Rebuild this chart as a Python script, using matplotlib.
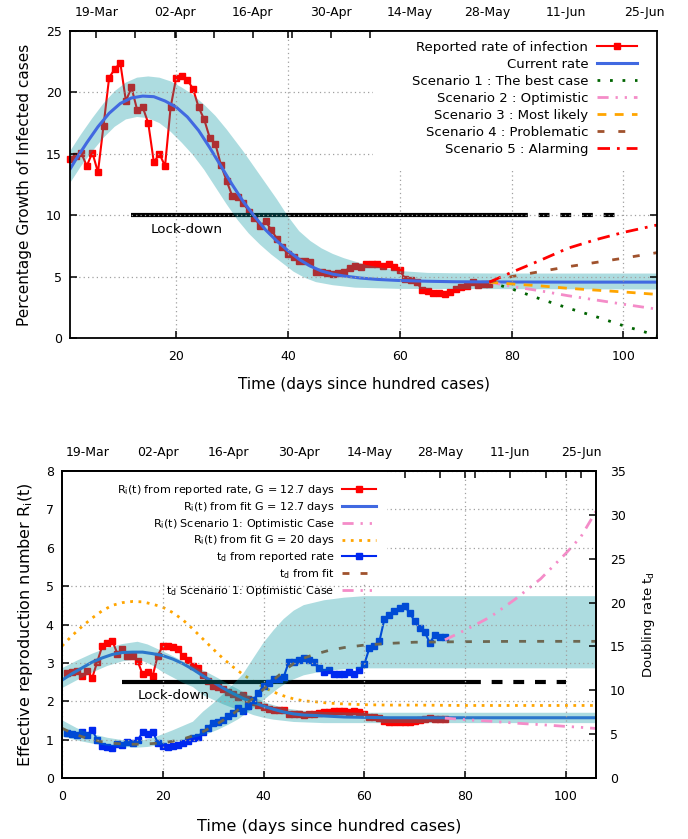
import numpy as np
import matplotlib
matplotlib.use('Agg')
import matplotlib.pyplot as plt
from matplotlib.lines import Line2D
from matplotlib.patches import Rectangle

plt.rcParams.update({'font.family': 'DejaVu Sans', 'font.size': 9, 'axes.linewidth': 1.3,
    'xtick.direction': 'in', 'ytick.direction': 'in', 'xtick.major.size': 5, 'ytick.major.size': 5,
    'xtick.major.width': 1.1, 'ytick.major.width': 1.1, 'mathtext.default': 'regular'})

# reported daily growth rate (%), days since hundred cases
days = list(range(1, 77))
rate_reported = [14.6, 14.8, 15.1, 14.0, 15.1, 13.5, 17.3, 21.2, 21.9, 22.4,
                 19.3, 20.4, 18.6, 18.8, 17.5, 14.3, 15.0, 14.0, 18.8, 21.2,
                 21.3, 21.0, 20.3, 18.8, 17.8, 16.3, 15.8, 14.1, 12.8, 11.6,
                 11.5, 11.0, 10.3, 9.8, 9.1, 9.5, 8.8, 8.1, 7.4, 6.8,
                 6.6, 6.3, 6.3, 6.2, 5.4, 5.4, 5.3, 5.2, 5.3, 5.4,
                 5.7, 5.9, 5.8, 6.0, 6.0, 6.0, 5.9, 6.0, 5.8, 5.5,
                 4.8, 4.7, 4.55, 3.9, 3.8, 3.7, 3.65, 3.6, 3.75, 3.95,
                 4.15, 4.25, 4.6, 4.35, 4.4, 4.4]
ri_reported = [2.73, 2.75, 2.79, 2.66, 2.79, 2.61, 3.03, 3.44, 3.51, 3.57,
               3.24, 3.36, 3.17, 3.19, 3.05, 2.70, 2.77, 2.66, 3.19, 3.44,
               3.45, 3.42, 3.35, 3.19, 3.08, 2.92, 2.86, 2.68, 2.53, 2.39,
               2.38, 2.33, 2.24, 2.19, 2.11, 2.15, 2.07, 1.99, 1.91, 1.84,
               1.81, 1.78, 1.78, 1.76, 1.67, 1.67, 1.66, 1.64, 1.66, 1.67,
               1.70, 1.73, 1.72, 1.74, 1.74, 1.74, 1.73, 1.74, 1.72, 1.68,
               1.60, 1.58, 1.57, 1.49, 1.47, 1.46, 1.46, 1.45, 1.47, 1.49,
               1.52, 1.53, 1.57, 1.54, 1.55, 1.55]
td_reported = [5.09, 5.02, 4.93, 5.29, 4.93, 5.47, 4.34, 3.60, 3.50, 3.43,
               3.93, 3.73, 4.06, 4.02, 4.30, 5.19, 4.96, 5.29, 4.02, 3.60,
               3.59, 3.64, 3.75, 4.02, 4.23, 4.59, 4.73, 5.25, 5.75, 6.32,
               6.37, 6.64, 7.07, 7.41, 7.96, 7.64, 8.22, 8.90, 9.71, 10.54,
               10.85, 11.34, 11.34, 11.52, 13.18, 13.18, 13.42, 13.67, 13.42, 13.18,
               12.50, 12.09, 12.29, 11.90, 11.90, 11.90, 12.09, 11.90, 12.29, 12.95,
               14.78, 15.09, 15.58, 18.12, 18.58, 19.08, 19.33, 19.60, 18.83, 17.89,
               17.05, 16.65, 15.41, 16.28, 16.10, 16.10]

# fitted rate and derived quantities
fit_days = [0, 2, 4, 6, 8, 10, 12, 14, 16, 18, 20, 22, 24, 26, 28, 30, 32, 34, 36, 38,
            40, 42, 44, 46, 48, 50, 53, 56, 60, 65, 70, 80, 90, 106]
fit_rate = [13.0, 14.5, 15.9, 17.2, 18.3, 19.1, 19.55, 19.7, 19.65, 19.3, 18.8, 18.0, 16.9, 15.5,
            14.0, 12.5, 11.1, 9.9, 8.8, 7.9, 7.1, 6.4, 5.85, 5.45, 5.2, 5.05, 4.88, 4.77, 4.68,
            4.62, 4.58, 4.56, 4.55, 4.55]
ri_fit = [2.55, 2.72, 2.87, 3.02, 3.13, 3.22, 3.27, 3.28, 3.28, 3.24, 3.19, 3.10, 2.98, 2.83,
          2.66, 2.50, 2.34, 2.20, 2.07, 1.97, 1.87, 1.79, 1.72, 1.67, 1.64, 1.63, 1.61, 1.59, 1.58,
          1.57, 1.57, 1.57, 1.57, 1.57]
ri_fit_g20 = [3.44, 3.71, 3.95, 4.17, 4.36, 4.50, 4.57, 4.60, 4.59, 4.53, 4.45, 4.31, 4.12, 3.88,
              3.62, 3.36, 3.11, 2.89, 2.69, 2.52, 2.37, 2.24, 2.14, 2.06, 2.01, 1.99, 1.95, 1.93,
              1.91, 1.90, 1.90, 1.89, 1.89, 1.89]
td_fit = [5.67, 5.12, 4.70, 4.37, 4.12, 3.97, 3.88, 3.85, 3.86, 3.93, 4.02, 4.19, 4.44, 4.81,
          5.29, 5.89, 6.59, 7.34, 8.22, 9.12, 10.11, 11.17, 12.19, 13.06, 13.67, 14.07, 14.55,
          14.87, 15.15, 15.35, 15.48, 15.54, 15.58, 15.58]

# uncertainty band of the growth rate
rate_hi_days = [1, 3, 5, 7, 9, 11, 13, 15, 17, 19, 21, 23, 25, 27, 29, 31, 32, 34, 36, 38,
                40, 42, 44, 46, 48, 50, 54, 60, 65, 70, 80, 106]
rate_hi = [15.2, 16.6, 17.9, 19.1, 20.1, 20.8, 21.2, 21.3, 21.2, 20.9, 20.4, 19.8, 19.0, 18.1,
           17.0, 15.8, 15.2, 13.9, 12.6, 11.3, 9.9, 8.7, 7.9, 7.3, 6.85, 6.5, 5.95, 5.45, 5.3,
           5.27, 5.25, 5.25]
rate_lo_days = [1, 3, 5, 7, 9, 11, 13, 15, 17, 19, 21, 23, 25, 27, 29, 31, 33, 35, 37, 39,
                41, 43, 45, 48, 52, 60, 106]
rate_lo = [12.6, 14.0, 15.2, 16.3, 17.2, 17.8, 18.0, 17.9, 17.5, 16.8, 15.9, 14.9, 13.7, 12.3,
           10.9, 9.6, 8.5, 7.6, 6.8, 6.1, 5.4, 4.9, 4.55, 4.3, 4.1, 4.0, 3.95]

# bands for R_i and t_d (upper R_i pairs with lower t_d and vice versa)
band_a_days = [0, 3, 6, 9, 12, 15, 17, 19, 21, 23, 25, 27, 29, 31, 33, 35, 37, 39, 41, 43,
               45, 48, 52, 56, 60, 106]
ri_band_hi = [2.86, 3.06, 3.24, 3.39, 3.49, 3.55, 3.48, 3.36, 3.24, 3.11, 2.98, 2.86, 2.74,
              2.60, 2.45, 2.31, 2.16, 2.05, 1.94, 1.86, 1.80, 1.75, 1.72, 1.71, 1.70, 1.70]
td_band_lo = [4.73, 4.28, 3.93, 3.68, 3.53, 3.46, 3.54, 3.73, 3.93, 4.17, 4.44, 4.73, 5.05,
              5.51, 6.07, 6.70, 7.56, 8.40, 9.34, 10.24, 11.01, 11.71, 12.19, 12.40, 12.50, 12.50]
band_b_days = [0, 3, 6, 9, 12, 14, 16, 18, 20, 22, 24, 26, 28, 30, 32, 34, 36, 38, 40, 42,
               44, 46, 48, 52, 56, 60, 70, 106]
ri_band_lo = [2.34, 2.55, 2.75, 2.92, 3.04, 3.07, 3.05, 2.93, 2.76, 2.62, 2.48, 2.37, 2.16,
              2.04, 1.92, 1.82, 1.74, 1.64, 1.57, 1.52, 1.49, 1.46, 1.45, 1.43, 1.43, 1.43,
              1.43, 1.43]
td_band_hi = [6.59, 5.67, 5.02, 4.59, 4.32, 4.25, 4.30, 4.56, 4.99, 5.44, 5.93, 6.42, 7.56,
              8.50, 9.58, 10.69, 11.90, 13.67, 15.41, 16.85, 18.12, 19.08, 19.71, 20.26, 20.56,
              20.73, 20.73, 20.73]

# projections
scen_days = [76, 80, 85, 90, 95, 100, 106]
scen_best = [4.55, 4.0, 3.2, 2.45, 1.75, 1.0, 0.2]
scen_optimistic = [4.55, 4.2, 3.85, 3.45, 3.1, 2.75, 2.35]
scen_likely = [4.55, 4.4, 4.25, 4.05, 3.9, 3.75, 3.55]
scen_problem = [4.55, 5.0, 5.4, 5.8, 6.15, 6.5, 6.95]
scen_alarm = [4.55, 5.35, 6.3, 7.3, 8.0, 8.6, 9.2]
opt_days = [76, 80, 85, 90, 95, 100, 103, 106]
ri_opt = [1.56, 1.52, 1.48, 1.43, 1.39, 1.345, 1.32, 1.29]
td_opt = [15.75, 16.85, 18.35, 20.4, 22.7, 25.6, 27.5, 30.4]

lock_start, lock_end, lock_proj_end = 12, 81, 100
date_labels = ['19-Mar', '02-Apr', '16-Apr', '30-Apr', '14-May', '28-May', '11-Jun', '25-Jun']

BAND = '#02959f'; BAND_A = 0.32
RED = '#ff0000'; ROYAL = '#4169e1'; GREEN = '#006400'; PINK = '#f48cc8'
ORANGE = '#ffa500'; SIENNA = '#a0522d'; BLUE = '#0028f0'
GRID = dict(color='#a0a0a0', linestyle=(0, (1, 2.5)), linewidth=0.9)
LS_BEST = (0, (1, 3.5)); LS_OPT = (0, (4, 2.5, 0.8, 2.5, 0.8, 2.5)); LS_LIKELY = (0, (3.2, 3))
LS_PROB = (0, (2.5, 5)); LS_ALARM = (0, (4.5, 2.5, 1, 2.5)); LS_LOCK = (0, (2.6, 2.6))
LS_TDFIT = (0, (2.5, 4)); LS_G20 = (0, (1, 2))


def date_axis(ax, first):
    sec = ax.secondary_xaxis('top')
    ticks = np.arange(first, 106, 7)
    labels = [date_labels[i // 2] if i % 2 == 0 else '' for i in range(len(ticks))]
    sec.set_xticks(ticks)
    sec.set_xticklabels(labels)
    sec.tick_params(direction='in', length=5, width=1.1, pad=8.5, labelsize=9)
    return sec


fig = plt.figure(figsize=(6.88, 8.39), dpi=100)

# ---- upper panel: growth rate ----
pos1 = [70/688, 1-338/839, 587/688, 307/839]
ax = fig.add_axes(pos1)
ax.axis('off')
ax.plot(days, rate_reported, color=RED, lw=1.5, marker='s', ms=5, zorder=2, clip_on=False)
ax.plot([lock_start, lock_end], [10, 10], color='black', lw=3, solid_capstyle='butt', zorder=2)
ax.plot([lock_end, lock_proj_end], [10, 10], color='black', lw=3, ls=LS_LOCK, zorder=2)
ax.fill(np.r_[rate_hi_days, rate_lo_days[::-1]], np.r_[rate_hi, rate_lo[::-1]],
        color=BAND, alpha=BAND_A, lw=0, zorder=2.2)
ax.plot(fit_days, fit_rate, color=ROYAL, lw=2.2, zorder=2.6)
ax.plot(scen_days, scen_best, color=GREEN, lw=2, ls=LS_BEST, zorder=2.6)
ax.plot(scen_days, scen_optimistic, color=PINK, lw=2, ls=LS_OPT, zorder=2.6)
ax.plot(scen_days, scen_likely, color=ORANGE, lw=2, ls=LS_LIKELY, zorder=2.6)
ax.plot(scen_days, scen_problem, color=SIENNA, lw=2, ls=LS_PROB, zorder=2.6)
ax.plot(scen_days, scen_alarm, color=RED, lw=2, ls=LS_ALARM, zorder=2.6)
ax.set_xlim(1, 106); ax.set_ylim(0, 25)

# frame, grid and legend drawn over the data
ov = fig.add_axes(pos1, sharex=ax, sharey=ax, label='frame1')
ov.patch.set_visible(False)
ov.set_axisbelow(True)
ov.grid(True, **GRID)
ov.set_xticks([20, 40, 60, 80, 100]); ov.set_yticks(range(0, 26, 5))
ov.tick_params(top=True, right=True, labelsize=9)
ov.tick_params(axis='x', pad=9)
ov.tick_params(axis='y', pad=6)
ov.add_patch(Rectangle((0.516, 0.547), 0.484, 0.453, transform=ov.transAxes,
                       color='white', lw=0, zorder=1))
ov.text(21.8, 8.8, 'Lock-down', ha='center', va='center', fontsize=9.7)
ov.set_xlabel('Time (days since hundred cases)', fontsize=11, labelpad=10)
ov.set_ylabel('Percentage Growth of Infected cases', fontsize=11, labelpad=10)
date_axis(ov, 5.7)
handles = [Line2D([], [], color=RED, lw=1.5, marker='s', ms=5),
           Line2D([], [], color=ROYAL, lw=2.2),
           Line2D([], [], color=GREEN, lw=2, ls=LS_BEST),
           Line2D([], [], color=PINK, lw=2, ls=LS_OPT),
           Line2D([], [], color=ORANGE, lw=2, ls=LS_LIKELY),
           Line2D([], [], color=SIENNA, lw=2, ls=LS_PROB),
           Line2D([], [], color=RED, lw=2, ls=LS_ALARM)]
labels = ['Reported rate of infection', 'Current rate', 'Scenario 1 : The best case',
          'Scenario 2 : Optimistic', 'Scenario 3 : Most likely', 'Scenario 4 : Problematic',
          'Scenario 5 : Alarming']
ov.legend(handles, labels, loc='upper right', bbox_to_anchor=(0.975, 0.985),
          markerfirst=False, frameon=False, fontsize=9.5, numpoints=1,
          handlelength=3.0, handletextpad=0.7, labelspacing=0.3, borderaxespad=0)

# ---- lower panel: reproduction number and doubling time ----
pos2 = [62/688, 1-778/839, 534/688, 307/839]
ax_ri = fig.add_axes(pos2, label='ri')
ax_ri.axis('off')
ax_ri.plot(days, ri_reported, color=RED, lw=1.5, marker='s', ms=3.8, zorder=2)
ax_ri.plot(fit_days, ri_fit, color=ROYAL, lw=2.2, zorder=2)
ax_ri.plot(fit_days, ri_fit_g20, color=ORANGE, lw=2, ls=LS_G20, zorder=2)
ax_ri.plot([lock_start, lock_end], [2.5, 2.5], color='black', lw=3, solid_capstyle='butt', zorder=2)
ax_ri.plot([lock_end, lock_proj_end], [2.5, 2.5], color='black', lw=3, ls=LS_LOCK, zorder=2)
ax_ri.fill(np.r_[band_a_days, band_b_days[::-1]], np.r_[ri_band_hi, ri_band_lo[::-1]],
           color=BAND, alpha=BAND_A, lw=0, zorder=2.2)
ax_ri.plot(opt_days, ri_opt, color=PINK, lw=2, ls=LS_OPT, zorder=2.6)
ax_ri.set_xlim(0, 106); ax_ri.set_ylim(0, 8)

ax_td = fig.add_axes(pos2, sharex=ax_ri, label='td')
ax_td.axis('off')
ax_td.plot(days, td_reported, color=BLUE, lw=1.5, marker='s', ms=3.8, zorder=2)
ax_td.plot(fit_days, td_fit, color=SIENNA, lw=2, ls=LS_TDFIT, zorder=2)
ax_td.fill(np.r_[band_b_days, band_a_days[::-1]], np.r_[td_band_hi, td_band_lo[::-1]],
           color=BAND, alpha=BAND_A, lw=0, zorder=2.2)
ax_td.plot(opt_days, td_opt, color=PINK, lw=2, ls=LS_OPT, zorder=2.6)
ax_td.set_ylim(0, 35)

ov2 = fig.add_axes(pos2, sharex=ax_ri, sharey=ax_ri, label='frame2')
ov2.patch.set_visible(False)
ov2.set_axisbelow(True)
ov2.grid(True, **GRID)
ov2.set_xticks(range(0, 101, 20)); ov2.set_yticks(range(0, 9))
ov2.tick_params(top=True, right=False, labelsize=9)
ov2.tick_params(axis='x', pad=9)
ov2.tick_params(axis='y', pad=6)
ov2.add_patch(Rectangle((0, 0.635), 0.609, 0.365, transform=ov2.transAxes,
                        color='white', lw=0, zorder=1))
ov2.text(22.2, 2.16, 'Lock-down', ha='center', va='center', fontsize=9.7)
ov2.set_xlabel('Time (days since hundred cases)', fontsize=11.5, labelpad=11)
ov2.set_ylabel('Effective reproduction number R$_i$(t)', fontsize=11.5, labelpad=8)
date_axis(ov2, 5.0)
ov2r = ov2.twinx()
ov2r.set_ylim(0, 35); ov2r.set_yticks(range(0, 36, 5))
ov2r.tick_params(labelsize=9, pad=10)
ov2r.set_ylabel('Doubling rate t$_d$', fontsize=9.5, labelpad=10)
handles2 = [Line2D([], [], color=RED, lw=1.5, marker='s', ms=3.8),
            Line2D([], [], color=ROYAL, lw=2.2),
            Line2D([], [], color=PINK, lw=2, ls=LS_OPT),
            Line2D([], [], color=ORANGE, lw=2, ls=LS_G20),
            Line2D([], [], color=BLUE, lw=1.5, marker='s', ms=3.8),
            Line2D([], [], color=SIENNA, lw=2, ls=LS_TDFIT),
            Line2D([], [], color=PINK, lw=2, ls=LS_OPT)]
labels2 = ['R$_i$(t) from reported rate, G = 12.7 days', 'R$_i$(t) from fit G = 12.7 days',
           'R$_i$(t) Scenario 1: Optimistic Case', 'R$_i$(t) from fit G = 20 days',
           't$_d$ from reported rate', 't$_d$ from fit', 't$_d$ Scenario 1: Optimistic Case']
ov2.legend(handles2, labels2, loc='upper right', bbox_to_anchor=(0.596, 0.975),
           markerfirst=False, frameon=False, fontsize=8, numpoints=1,
           handlelength=3.0, handletextpad=0.7, labelspacing=0.25, borderaxespad=0)

fig.savefig('out.png', dpi=100)
